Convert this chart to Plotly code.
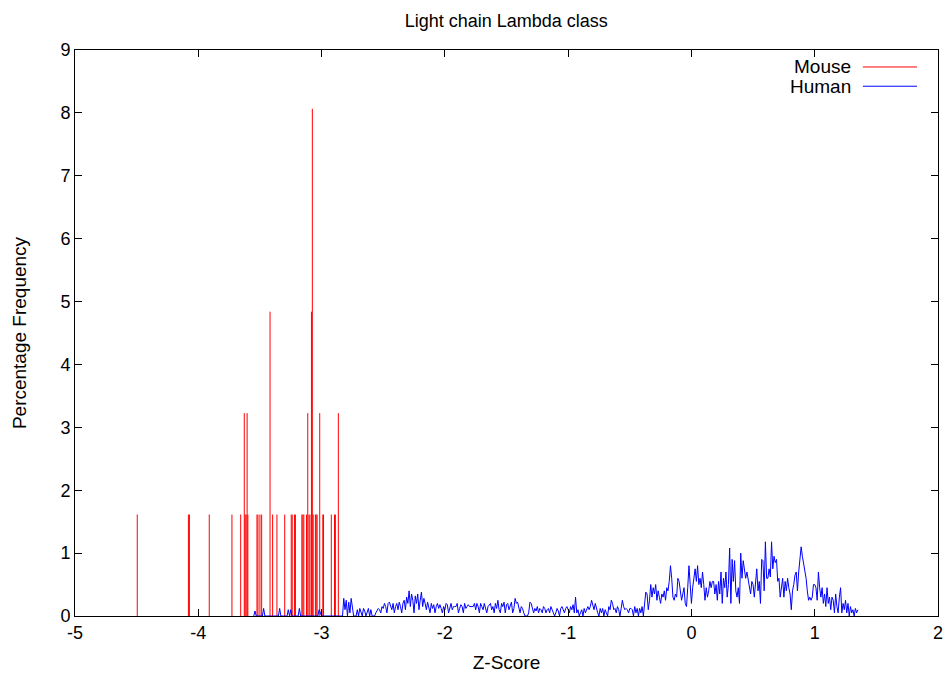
import plotly.graph_objects as go

# ---------------- data ----------------
title_text = "Light chain Lambda class"
x_title = "Z-Score"
y_title = "Percentage Frequency"
series_names = ["Mouse", "Human"]

x_tick_vals = [-5, -4, -3, -2, -1, 0, 1, 2]
y_tick_vals = [0, 1, 2, 3, 4, 5, 6, 7, 8, 9]

# Mouse: impulses (z-score, percentage)
mouse_z = [-4.495, -4.080, -4.072, -3.911, -3.727, -3.656, -3.627, -3.620, -3.612,
           -3.604, -3.598, -3.524, -3.516, -3.500, -3.486, -3.418, -3.397, -3.362,
           -3.299, -3.246, -3.238, -3.220, -3.212, -3.160, -3.152, -3.144, -3.122,
           -3.112, -3.102, -3.094, -3.082, -3.075, -3.068, -3.050, -3.044, -3.036,
           -3.015, -2.990, -2.984, -2.921, -2.895, -2.888, -2.864]
mouse_pct = [1.613, 1.613, 1.613, 1.613, 1.613, 1.613, 3.226, 1.613, 1.613,
             3.226, 1.613, 1.613, 1.613, 1.613, 1.613, 4.839, 1.613, 1.613,
             1.613, 1.613, 1.613, 1.613, 1.613, 1.613, 1.613, 1.613, 1.613,
             3.226, 1.613, 1.613, 4.839, 8.065, 1.613, 1.613, 1.613, 1.613,
             3.226, 1.613, 1.613, 1.613, 1.613, 1.613, 3.226]

# Human: histogram line, bins starting at human_z0 with width human_dz
human_z0 = -3.55
human_dz = 0.01
human_pct = [
    # -3.55 .. -2.84
    0, 0.08, 0, 0, 0, 0, 0, 0, 0.12, 0,
    0, 0, 0, 0, 0, 0, 0, 0, 0, 0,
    0, 0.12, 0, 0, 0, 0, 0, 0, 0.1, 0,
    0.1, 0, 0, 0, 0, 0, 0, 0.12, 0, 0,
    0, 0, 0, 0, 0, 0, 0, 0, 0, 0,
    0, 0, 0, 0.1, 0.05, 0, 0, 0, 0, 0,
    0, 0, 0, 0, 0, 0, 0, 0, 0, 0,
    0, 0,
    # -2.83 .. -0.94
    0, 0.28, 0.1, 0.25, 0, 0.22, 0.05, 0.28, 0.1, 0,
    0, 0, 0.1, 0, 0.12, 0.05, 0, 0.12, 0.08, 0,
    0.05, 0.12, 0, 0.1, 0, 0, 0, 0.05, 0.1, 0.12,
    0.1, 0.05, 0.15, 0.12, 0.2, 0.15, 0.05, 0.2, 0.22, 0.15,
    0.1, 0.2, 0.05, 0.15, 0.2, 0.1, 0.22, 0.15, 0.05, 0.2,
    0.25, 0.1, 0.3, 0.2, 0.4, 0.15, 0.35, 0.25, 0.05, 0.32,
    0.2, 0.35, 0.1, 0.25, 0.38, 0.15, 0.28, 0.2, 0.1, 0.22,
    0.15, 0.05, 0.2, 0.12, 0.18, 0.05, 0.15, 0.2, 0.12, 0.18,
    0.12, 0.05, 0.15, 0.1, 0.2, 0.18, 0.05, 0.15, 0.2, 0.1,
    0.15, 0.15, 0.15, 0.2, 0.05, 0.12, 0.18, 0.15, 0.05, 0.2,
    0.12, 0.15, 0.18, 0.15, 0.15, 0.15, 0.15, 0.2, 0.1, 0.2,
    0.15, 0.05, 0.2, 0.15, 0.1, 0.2, 0.12, 0.05, 0.15, 0.18,
    0.2, 0.1, 0.15, 0.05, 0.2, 0.12, 0.25, 0.1, 0.05, 0.2,
    0.15, 0.22, 0.05, 0.18, 0.2, 0.1, 0.15, 0.22, 0.05, 0.12,
    0.28, 0.2, 0.22, 0.1, 0.05, 0.15, 0.12, 0.05, 0.0, 0.0,
    0, 0.05, 0.22, 0.2, 0.1, 0.05, 0.12, 0.08, 0.15, 0.05,
    0.12, 0.1, 0.05, 0.15, 0.12, 0.05, 0.1, 0.12, 0.05, 0.15,
    0.1, 0.05, 0.0, 0.05, 0.12, 0.08, 0.0, 0.12, 0.15, 0.1,
    0.05, 0.12, 0.15, 0.1, 0.05, 0.15, 0.1, 0.18, 0.05, 0.3,
    # -0.93 .. 0.06
    0.05, 0.1, 0.0, 0.05, 0.1, 0.0, 0.12, 0.05, 0.1, 0.15,
    0.1, 0.15, 0.25, 0.15, 0.1, 0.2, 0.1, 0.05, 0.0, 0.12,
    0.05, 0.12, 0.0, 0.1, 0.05, 0.0, 0.15, 0.1, 0.25, 0.2,
    0.1, 0.12, 0.05, 0.15, 0.1, 0.0, 0.12, 0.25, 0.15, 0.1,
    0.12, 0.1, 0.05, 0.12, 0.12, 0.1, 0.0, 0.15, 0.05, 0.12,
    0.0, 0.12, 0.05, 0.15, 0.0, 0.2, 0.38, 0.35, 0.1, 0.25,
    0.5, 0.3, 0.45, 0.35, 0.5, 0.25, 0.4, 0.3, 0.2, 0.35,
    0.3, 0.4, 0.25, 0.45, 0.4, 0.55, 0.8, 0.6, 0.3, 0.25,
    0.35, 0.3, 0.6, 0.55, 0.4, 0.25, 0.35, 0.45, 0.2, 0.15,
    0.45, 0.8, 0.5, 0.2, 0.45, 0.6, 0.75, 0.55, 0.8, 0.5,
    # 0.07 .. 1.26
    0.6, 0.45, 0.7, 0.5, 0.25, 0.45, 0.3, 0.4, 0.55, 0.45,
    0.55, 0.55, 0.35, 0.5, 0.25, 0.55, 0.35, 0.7, 0.2, 0.6,
    0.45, 0.7, 0.3, 0.5, 1.08, 0.2, 0.9, 0.55, 0.88, 0.4,
    0.3, 0.45, 0.2, 1.0, 0.6, 0.88, 0.75, 0.6, 0.7, 0.58,
    0.5, 0.35, 0.55, 0.5, 0.3, 0.6, 0.75, 0.4, 0.55, 0.2,
    0.9, 0.88, 0.4, 1.18, 0.6, 0.6, 0.75, 0.62, 1.18, 0.75,
    0.95, 0.85, 0.9, 0.55, 0.6, 0.3, 0.45, 0.6, 0.3, 0.55,
    0.4, 0.6, 0.45, 0.35, 0.1, 0.4, 0.5, 0.65, 0.7, 0.4,
    0.7, 0.88, 1.1, 0.95, 0.85, 0.75, 0.6, 0.4, 0.25, 0.3,
    0.25, 0.3, 0.5, 0.5, 0.45, 0.25, 0.7, 0.45, 0.3, 0.45,
    0.2, 0.35, 0.15, 0.45, 0.2, 0.3, 0.1, 0.3, 0.25, 0.05,
    0.35, 0.15, 0.05, 0.3, 0.45, 0.05, 0.2, 0.1, 0.25, 0.05,
    # 1.27 .. 1.35
    0.2, 0.0, 0.15, 0.05, 0.1, 0.0, 0.12, 0.05, 0.1,
]

colors = ["#ff0000", "#0000ff"]

# ---------------- build ----------------
human_z = [round(human_z0 + human_dz * i, 4) for i in range(len(human_pct))]

imp_x, imp_y = [], []
for z, v in zip(mouse_z, mouse_pct):
    imp_x += [z, z, None]
    imp_y += [0, v, None]

FONT = "Liberation Sans, Arial, Helvetica, sans-serif"
TICK_SIZE = 18
LABEL_SIZE = 19

fig = go.Figure()
fig.add_trace(go.Scatter(x=imp_x, y=imp_y, mode="lines", name=series_names[0],
                         line=dict(color=colors[0], width=1), showlegend=False,
                         connectgaps=False))
fig.add_trace(go.Scatter(x=human_z, y=human_pct, mode="lines", name=series_names[1],
                         line=dict(color=colors[1], width=1), showlegend=False))

axis_common = dict(showgrid=False, zeroline=False, showline=True, linecolor="black",
                   linewidth=1, mirror="ticks", ticks="inside", ticklen=7,
                   tickcolor="black", tickwidth=1, automargin=False,
                   tickfont=dict(family=FONT, size=TICK_SIZE, color="black"))

fig.update_xaxes(range=[-5, 2], tickvals=x_tick_vals,
                 ticktext=[str(v) for v in x_tick_vals],
                 title=dict(text=x_title,
                            font=dict(family=FONT, size=LABEL_SIZE, color="black"),
                            standoff=14),
                 **axis_common)
fig.update_yaxes(range=[0, 9], tickvals=y_tick_vals,
                 ticktext=[str(v) for v in y_tick_vals],
                 title=dict(text=y_title,
                            font=dict(family=FONT, size=LABEL_SIZE, color="black"),
                            standoff=28),
                 **axis_common)

# gnuplot-style key: text right-aligned, line sample to its right
legend_rows_y = [0.970, 0.936]
for name, col, yy in zip(series_names, colors, legend_rows_y):
    fig.add_annotation(xref="paper", yref="paper", x=0.902, y=yy, text=name,
                       showarrow=False, xanchor="right", yanchor="middle",
                       font=dict(family=FONT, size=LABEL_SIZE, color="black"))
    fig.add_shape(type="line", xref="paper", yref="paper", x0=0.913, x1=0.9757,
                  y0=yy, y1=yy, line=dict(color=col, width=1))

fig.update_layout(
    width=949, height=674,
    margin=dict(l=75, r=11, t=50, b=58),
    paper_bgcolor="white", plot_bgcolor="white",
    title=dict(text=title_text, x=0.5335, xanchor="center", y=0.97, yanchor="middle",
               font=dict(family=FONT, size=18, color="black")),
    font=dict(family=FONT, color="black"),
)

fig.write_html("out.html")
